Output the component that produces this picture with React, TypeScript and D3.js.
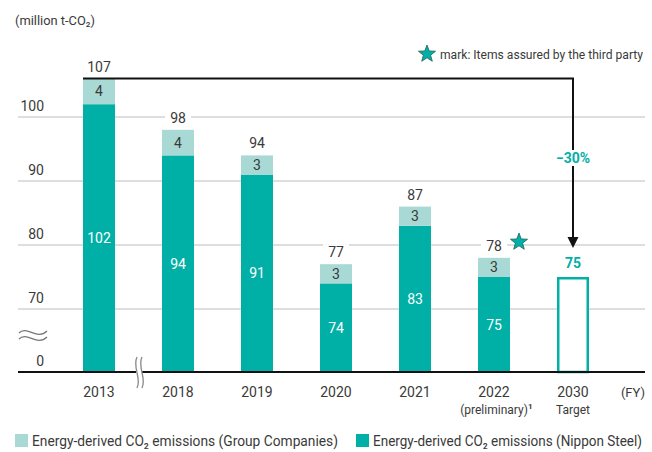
import React from "react";
import * as d3 from "d3";

const years = ["2013", "2018", "2019", "2020", "2021", "2022", "2030"];
const subLabels = ["", "", "", "", "", "(preliminary)", "Target"];
const nipponSteel = [102, 94, 91, 74, 83, 75];
const groupCompanies = [4, 4, 3, 3, 3, 3];
const totals = [107, 98, 94, 77, 87, 78];
const targetValue = 75;
const reductionLabel = "\u221230%";
const gridTicks = [70, 80, 90, 100];
const tickLabels = [0, 70, 80, 90, 100];
const legendLabels = ["Energy-derived CO\u2082 emissions (Group Companies)", "Energy-derived CO\u2082 emissions (Nippon Steel)"];

const W = 652;
const H = 452;
const DARK = "#00b0a6";
const LIGHT = "#a9d9d4";
const TEXT = "#3a3a3a";
const FONT = "Roboto, 'Noto Sans', sans-serif";

function Star({ cx, cy, r }: { cx: number; cy: number; r: number }) {
  const pts: string[] = [];
  for (let i = 0; i < 10; i++) {
    const rr = i % 2 === 0 ? r : r * 0.42;
    const a = -Math.PI / 2 + (i * Math.PI) / 5;
    pts.push(`${cx + rr * Math.cos(a)},${cy + rr * Math.sin(a)}`);
  }
  return <polygon points={pts.join(" ")} fill={DARK} stroke="#1d5f5a" strokeWidth={0.8} />;
}

export default function App() {
  const x = d3.scaleBand<string>().domain(years).range([59.5, 612.5]).paddingInner(0.595).paddingOuter(0.2975);
  const y = d3.scaleLinear().domain([0, 70, 110]).range([372, 309, 53]);
  const bw = x.bandwidth();
  const gx0 = 18;
  const gx1 = 645;

  const stacked = d3.stack<number>().keys(["nippon", "group"]).value((i, k) => (k === "nippon" ? nipponSteel[i] : groupCompanies[i]))(
    d3.range(nipponSteel.length)
  );

  const x2013 = x(years[0])!;
  const topY = y(nipponSteel[0] + groupCompanies[0]);
  const xt = x(years[6])! + bw / 2;
  const arrowTip = 248;

  return (
    <svg width={W} height={H} style={{ position: "absolute", left: 0, top: 0, background: "#fff" }} fontFamily={FONT}>
      <rect width={W} height={H} fill="#fff" />
      {/* title */}
      <text x={15} y={25} fontSize={13} fill={TEXT} textLength={80} lengthAdjust="spacingAndGlyphs">
        (million t-CO{"\u2082"})
      </text>

      {/* star legend */}
      <Star cx={427} cy={54} r={9} />
      <text x={440} y={59} fontSize={12} fill={TEXT} textLength={203} lengthAdjust="spacingAndGlyphs">
        mark: Items assured by the third party
      </text>

      {/* gridlines */}
      {gridTicks.map((t) => (
        <line key={t} x1={gx0} x2={gx1} y1={y(t)} y2={y(t)} stroke="#bdbdbd" strokeWidth={1.2} />
      ))}
      {tickLabels.map((t) => (
        <text key={t} x={44} y={y(t) - 6} fontSize={14} fill={TEXT} textAnchor="end">
          {t}
        </text>
      ))}
      {/* y break symbol */}
      <path d="M19,333 C27,325 37,341 47,331" fill="none" stroke="#777" strokeWidth={1.3} />
      <path d="M19,339 C27,331 37,347 47,337" fill="none" stroke="#777" strokeWidth={1.3} />

      {/* bars */}
      {stacked.map((layer, li) =>
        layer.map((d, i) => (
          <rect
            key={`${li}-${i}`}
            x={x(years[i])!}
            width={bw}
            y={y(d[1])}
            height={y(d[0]) - y(d[1])}
            fill={li === 0 ? DARK : LIGHT}
          />
        ))
      )}
      {/* target bar */}
      <rect
        x={x(years[6])! + 1.25}
        width={bw - 2.5}
        y={y(targetValue) + 1.25}
        height={y(0) - y(targetValue) - 1.25}
        fill="#fff"
        stroke={DARK}
        strokeWidth={2.5}
      />

      {/* segment labels */}
      {nipponSteel.map((v, i) => (
        <text key={`n${i}`} x={x(years[i])! + bw / 2} y={(y(v) + y(0)) / 2 + 5} fontSize={14} fill="#fff" textAnchor="middle">
          {v}
        </text>
      ))}
      {groupCompanies.map((v, i) => (
        <text
          key={`g${i}`}
          x={x(years[i])! + bw / 2}
          y={(y(nipponSteel[i]) + y(nipponSteel[i] + v)) / 2 + 5}
          fontSize={14}
          fill={TEXT}
          textAnchor="middle"
        >
          {v}
        </text>
      ))}
      {/* totals */}
      {totals.map((v, i) => {
        const cx = x(years[i])! + bw / 2;
        const by = y(nipponSteel[i] + groupCompanies[i]) - 7;
        return (
          <g key={`t${i}`}>
            {i > 0 && <rect x={cx - 13} y={by - 13} width={26} height={15} fill="#fff" />}
            <text x={cx} y={by} fontSize={14} fill={TEXT} textAnchor="middle">
              {v}
            </text>
          </g>
        );
      })}
      <Star cx={519} cy={242} r={9} />

      {/* arrow */}
      <path d={`M${x2013},${topY} H${xt} V${arrowTip - 10}`} fill="none" stroke="#111" strokeWidth={2} />
      <polygon points={`${xt - 5.5},${arrowTip - 11} ${xt + 5.5},${arrowTip - 11} ${xt},${arrowTip}`} fill="#111" />
      <rect x={xt - 22} y={150} width={44} height={16} fill="#fff" />
      <text x={xt} y={163} fontSize={14} fontWeight="bold" fill={DARK} textAnchor="middle">
        {reductionLabel}
      </text>
      <text x={xt} y={y(targetValue) - 9} fontSize={14} fontWeight="bold" fill={DARK} textAnchor="middle">
        {targetValue}
      </text>

      {/* baseline */}
      <line x1={gx0} x2={gx1} y1={y(0)} y2={y(0)} stroke="#111" strokeWidth={2} />
      {/* x break */}
      <rect x={136} y={y(0) - 2} width={6} height={4} fill="#fff" />
      <path d="M137,357 C132,367 142,378 137,388" fill="none" stroke="#888" strokeWidth={1.3} />
      <path d="M142,357 C137,367 147,378 142,388" fill="none" stroke="#888" strokeWidth={1.3} />

      {/* x labels */}
      {years.map((yr, i) => (
        <g key={yr}>
          <text x={x(yr)! + bw / 2} y={397} fontSize={14} fill={TEXT} textAnchor="middle">
            {yr}
          </text>
          {subLabels[i] && (
            <text x={x(yr)! + bw / 2} y={414} fontSize={12} fill={TEXT} textAnchor="middle">
              {subLabels[i]}
            </text>
          )}
        </g>
      ))}
      <text x={x(years[5])! + bw / 2 + 34} y={409} fontSize={8} fontWeight="bold" fill={TEXT}>
        1
      </text>
      <text x={645} y={397} fontSize={13} fill={TEXT} textAnchor="end">
        (FY)
      </text>

      {/* legend */}
      <rect x={15} y={434} width={13} height={13} fill={LIGHT} />
      <text x={32} y={446} fontSize={14} fill={TEXT} textLength={306} lengthAdjust="spacingAndGlyphs">
        {legendLabels[0]}
      </text>
      <rect x={356} y={434} width={13} height={13} fill={DARK} />
      <text x={373} y={446} fontSize={14} fill={TEXT} textLength={269} lengthAdjust="spacingAndGlyphs">
        {legendLabels[1]}
      </text>
    </svg>
  );
}
